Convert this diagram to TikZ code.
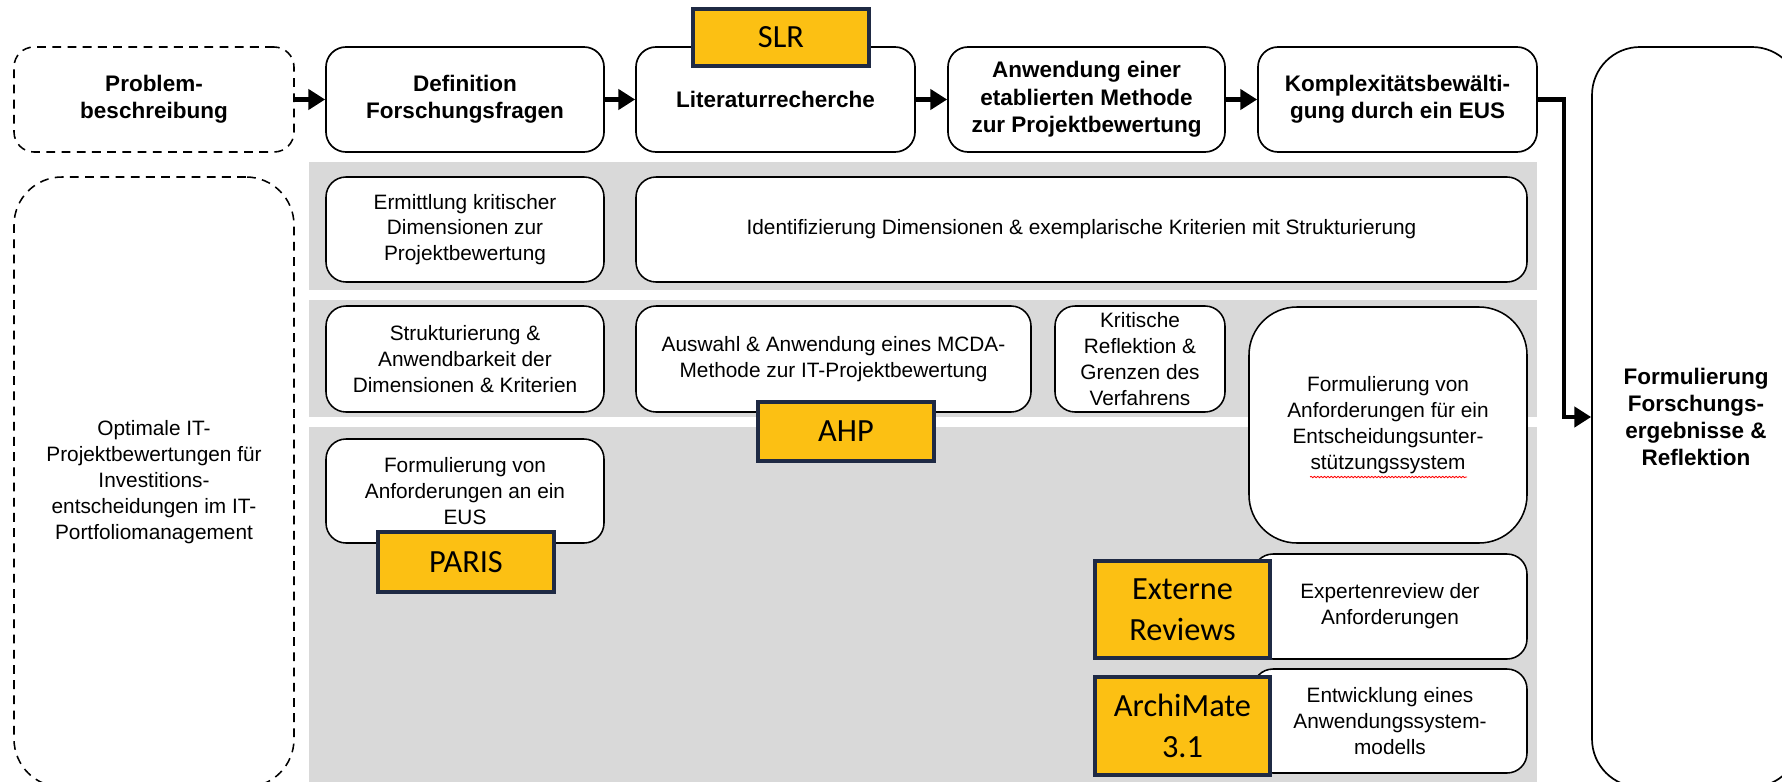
\documentclass[tikz,border=0pt]{standalone}
\usepackage{fontspec}
\setmainfont{Liberation Sans}
\newfontfamily\tagfont{Carlito}
\usetikzlibrary{arrows.meta,decorations.pathmorphing}
\definecolor{bandgray}{HTML}{D9D9D9}
\definecolor{tagyellow}{HTML}{FCC013}
\definecolor{tagnavy}{HTML}{1F2A44}
\tikzset{
  size/.style 2 args={minimum width=#1*0.025cm, minimum height=#2*0.025cm},
  stepbox/.style={draw, line width=1.2pt, rounded corners=0.5cm, fill=white, inner sep=0pt,
    align=center, font=\fontsize{16}{19.5}\selectfont\bfseries},
  taskbox/.style={draw, line width=1.1pt, rounded corners=0.5cm, fill=white, inner sep=0pt,
    align=center, font=\fontsize{14.8}{18.4}\selectfont},
  openbox/.style={draw, line width=1.1pt, dash pattern=on 0.22cm off 0.16cm, rounded corners=0.5cm,
    fill=white, inner sep=0pt, align=center},
  band/.style={fill=bandgray, draw=none},
  tag/.style={draw=tagnavy, line width=2.4pt, fill=tagyellow, inner sep=0pt, align=center,
    font=\tagfont\fontsize{23}{29}\selectfont},
  flow/.style={line width=3pt, -{Triangle[length=0.42cm, width=0.5cm]}}
}
\begin{document}
\begin{tikzpicture}[x=0.025cm, y=-0.025cm]
  \path[use as bounding box] (0,0) rectangle (1782,782);
  \clip (0,0) rectangle (1782,782);

  % grey bands
  \fill[band] (309,162) rectangle (1537,290);
  \fill[band] (309,300) rectangle (1537,417);
  \fill[band] (309,427) rectangle (1537,800);

  % process steps
  \node[openbox, size={280}{105}, font=\fontsize{16}{19.5}\selectfont\bfseries] (prob) at (154,99.5) {Problem-\\beschreibung};
  \node[stepbox, size={278}{105}] (def) at (465,99.5) {Definition\\Forschungsfragen};
  \node[stepbox, size={279}{105}] (lit) at (775.5,99.5) {Literaturrecherche};
  \node[stepbox, size={277}{105}] (anw) at (1086.5,99.5) {Anwendung einer\\etablierten Methode\\zur Projektbewertung};
  \node[stepbox, size={279}{105}] (komp) at (1397.5,99.5) {Komplexitätsbewälti-\\gung durch ein EUS};
  \node[stepbox, size={208}{740}, rounded corners=1.2cm, font=\fontsize{16}{19}\selectfont\bfseries] (res) at (1696,417) {Formulierung\\Forschungs-\\ergebnisse \&\\Reflektion};

  \node[openbox, size={280}{610}, rounded corners=1.2cm, font=\fontsize{14.8}{18.4}\selectfont] (goal) at (154,482)
    {Optimale IT-\\Projektbewertungen für\\Investitions-\\entscheidungen im IT-\\Portfoliomanagement};

  % tasks
  \node[taskbox, size={278}{105}] (ermi) at (465,229.5) {Ermittlung kritischer\\Dimensionen zur\\Projektbewertung};
  \node[taskbox, size={891}{105}] (iden) at (1081.5,229.5) {Identifizierung Dimensionen \& exemplarische Kriterien mit Strukturierung};
  \node[taskbox, size={278}{106}] (stru) at (465,359) {Strukturierung \&\\Anwendbarkeit der\\Dimensionen \& Kriterien};
  \node[taskbox, size={395}{106}] (ausw) at (833.5,359) {Auswahl \& Anwendung eines MCDA-\\Methode zur IT-Projektbewertung};
  \node[taskbox, size={170}{106}] (krit) at (1140,359) {Kritische\\Reflektion \&\\Grenzen des\\Verfahrens};
  \node[taskbox, size={278}{236}, rounded corners=1.2cm] (anfo) at (1388,425) {Formulierung von\\Anforderungen für ein\\Entscheidungsunter-\\stützungssystem};
  \draw[red, line width=0.6pt, decorate, decoration={snake, amplitude=0.5pt, segment length=2.4pt}]
    (1310,477) -- (1467,477);
  \node[taskbox, size={278}{104}] (feus) at (465,491) {Formulierung von\\Anforderungen an ein\\EUS};
  \node[taskbox, size={274}{105}] (expe) at (1390,606.5) {Expertenreview der\\Anforderungen};
  \node[taskbox, size={274}{104}] (entw) at (1390,721) {Entwicklung eines\\Anwendungssystem-\\modells};

  % methods
  \node[tag, size={176}{57}] (slr) at (781,37.5) {SLR};
  \node[tag, size={176}{59}] (ahp) at (846,431.5) {AHP};
  \node[tag, size={176}{60}] (paris) at (466,562) {PARIS};
  \node[tag, size={175}{97}] (revi) at (1182.5,609.5) {Externe\\Reviews};
  \node[tag, size={175}{98}] (arch) at (1182.5,726) {ArchiMate\\3.1};

  % flow
  \draw[flow] (prob) -- (def);
  \draw[flow] (def) -- (lit);
  \draw[flow] (lit) -- (anw);
  \draw[flow] (anw) -- (komp);
  \draw[flow] (komp.east) -- ++(26,0) |- (res.west);
\end{tikzpicture}
\end{document}
